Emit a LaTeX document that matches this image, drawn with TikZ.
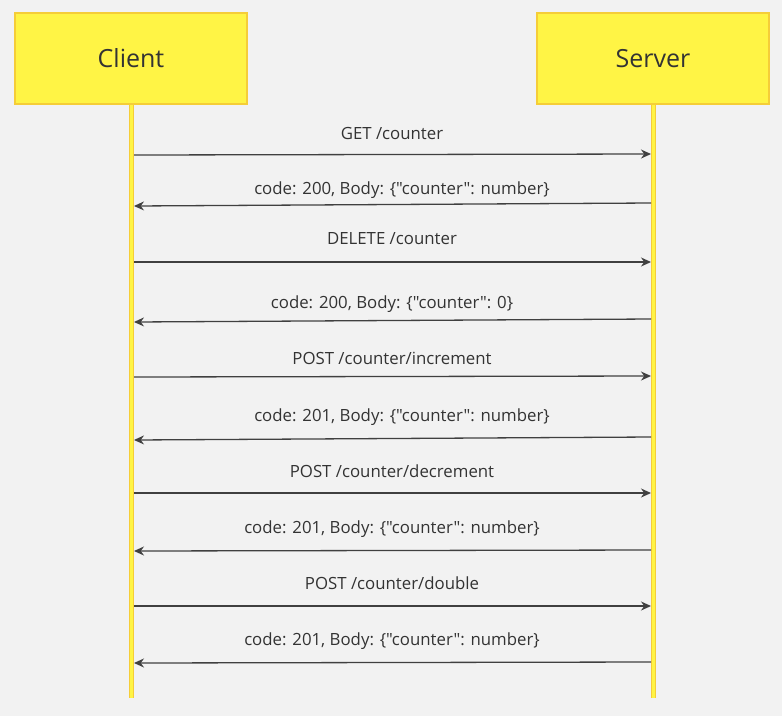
\documentclass[tikz,border=0pt]{standalone}
\usepackage{fontspec}
\setmainfont{Open Sans}[Ligatures=TeXOff]
\usepackage{xcolor}
\usepackage{tikz}
\usetikzlibrary{arrows.meta, positioning}
\definecolor{fond}{HTML}{F2F2F2}
\definecolor{jaune}{HTML}{FFF445}
\definecolor{bordure}{HTML}{F5CD38}
\definecolor{trait}{HTML}{404040}
\definecolor{texte}{HTML}{333333}
\tikzset{
  acteur/.style={rectangle, draw=bordure, fill=jaune, line width=1.2pt,
    text=texte, font=\fontsize{25}{30}\selectfont, minimum width=232pt,
    minimum height=91pt, inner sep=0pt},
  vie/.style={draw=bordure, line width=1pt, double=jaune, double distance=3pt},
  fleche/.style={-{Stealth[length=10pt, width=9pt]}, line width=1.3pt, color=trait},
  etiquette/.style={anchor=base, text=texte, font=\fontsize{16.8}{20}\selectfont, inner sep=0pt},
}

\begin{document}
\begin{tikzpicture}[x=1pt, y=-1pt]
    \fill[fond] (0,0) rectangle (782,716);
    \useasboundingbox (0,0) rectangle (782,716);

    \node[acteur] (client) at (131,58.5) {Client};
    \node[acteur] (serveur) at (653,58.5) {Server};

    \coordinate (clientbas) at (131.5,698);
    \coordinate (serveurbas) at (653.5,698);
    \draw[vie] (client.south -| clientbas) -- (clientbas);
    \draw[vie] (serveur.south -| serveurbas) -- (serveurbas);

    % points d'attache sur les lignes de vie
    \coordinate (c1) at (134,155);   \coordinate (s1) at (651,154);
    \coordinate (c2) at (134,206);   \coordinate (s2) at (651,203);
    \coordinate (c3) at (134,262);   \coordinate (s3) at (651,262);
    \coordinate (c4) at (134,322);   \coordinate (s4) at (651,319);
    \coordinate (c5) at (134,377);   \coordinate (s5) at (651,376);
    \coordinate (c6) at (134,440);   \coordinate (s6) at (651,437);
    \coordinate (c7) at (134,493);   \coordinate (s7) at (651,493);
    \coordinate (c8) at (134,551);   \coordinate (s8) at (651,550);
    \coordinate (c9) at (134,606);   \coordinate (s9) at (651,606);
    \coordinate (c10) at (134,663);  \coordinate (s10) at (651,662);

    \draw[fleche] (c1) -- (s1);
    \draw[fleche] (s2) -- (c2);
    \draw[fleche] (c3) -- (s3);
    \draw[fleche] (s4) -- (c4);
    \draw[fleche] (c5) -- (s5);
    \draw[fleche] (s6) -- (c6);
    \draw[fleche] (c7) -- (s7);
    \draw[fleche] (s8) -- (c8);
    \draw[fleche] (c9) -- (s9);
    \draw[fleche] (s10) -- (c10);

    \node[etiquette] (e1) at (392,139) {GET /counter};
    \node[etiquette] (e2) at (402,194) {code: 200, Body: \{"counter": number\}};
    \node[etiquette] (e3) at (392,244) {DELETE /counter};
    \node[etiquette] (e4) at (392,308) {code: 200, Body: \{"counter": 0\}};
    \node[etiquette] (e5) at (392,364) {POST /counter/increment};
    \node[etiquette] (e6) at (402,421) {code: 201, Body: \{"counter": number\}};
    \node[etiquette] (e7) at (392,477) {POST /counter/decrement};
    \node[etiquette] (e8) at (392,533) {code: 201, Body: \{"counter": number\}};
    \node[etiquette] (e9) at (392,589) {POST /counter/double};
    \node[etiquette] (e10) at (392,645) {code: 201, Body: \{"counter": number\}};
  \end{tikzpicture}
\end{document}
